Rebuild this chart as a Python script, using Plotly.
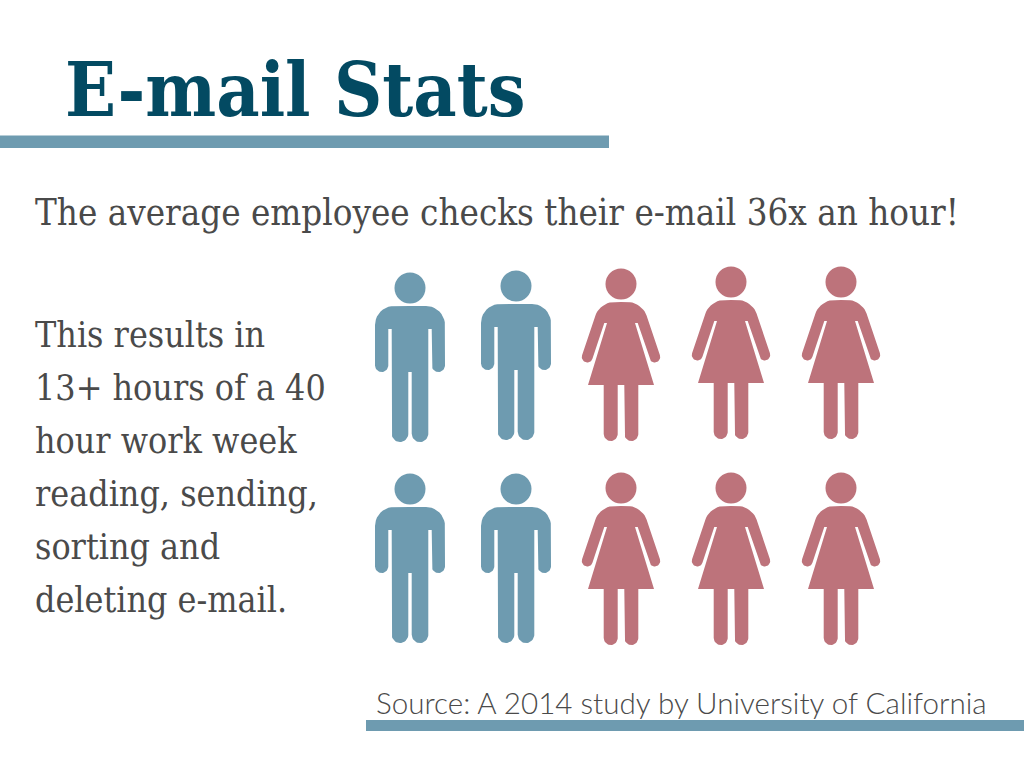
import plotly.graph_objects as go
import numpy as np

blue = "#6e9bb0"
pink = "#bd737b"
dark = "#4a4a4a"

# head centres, pixels from the top left
men = [(410, 288), (516, 286), (410, 489), (516, 489)]
women = [(621, 284), (731, 282), (841, 282), (621, 488), (731, 488), (841, 488)]

# outlines around the head centre: x, y, corner radius
man_outline = [(0, 18, 0), (-35, 18, 19), (-35, 84, 6.6), (-21.7, 84, 6.6), (-21.7, 41, 0),
               (-18.3, 41, 0), (-18.3, 154, 8.3), (-1.7, 154, 8.3), (-1.7, 84, 0),
               (1.7, 84, 0), (1.7, 154, 8.3), (18.3, 154, 8.3), (18.3, 41, 0),
               (21.7, 41, 0), (21.7, 84, 6.6), (35, 84, 6.6), (35, 18, 19)]
woman_outline = [(0, 18, 0), (-21, 18, 14), (-40.7, 76.4, 5.5), (-30.3, 80, 5.5), (-16.7, 39, 0),
                 (-14, 39, 0), (-33, 101, 0), (-17.3, 101, 0), (-17.3, 157, 7), (-3.3, 157, 7), (-3.3, 101, 0),
                 (3.3, 101, 0), (3.3, 157, 7), (17.3, 157, 7), (17.3, 101, 0), (33, 101, 0),
                 (14, 39, 0), (16.7, 39, 0), (30.3, 80, 5.5), (40.7, 76.4, 5.5), (21, 18, 14)]


def round_corners(outline):
    """Outline as x and y arrays, corners cut with a small arc."""
    pts = np.array([p[:2] for p in outline], dtype=float)
    xs, ys = [], []
    w = 0.707  # weight of the arc
    for i, (px, py, r) in enumerate(outline):
        here = pts[i]
        before = pts[i - 1] - here
        after = pts[(i + 1) % len(pts)] - here
        if r == 0:
            xs.append(px)
            ys.append(py)
            continue
        a = here + before / np.linalg.norm(before) * r
        b = here + after / np.linalg.norm(after) * r
        for t in np.linspace(0, 1, 11):
            q = ((1 - t) ** 2 * a + 2 * w * t * (1 - t) * here + t ** 2 * b) / ((1 - t) ** 2 + 2 * w * t * (1 - t) + t ** 2)
            xs.append(q[0])
            ys.append(q[1])
    return xs + xs[:1], ys + ys[:1]


def bodies(heads, outline):
    xs, ys = round_corners(outline)
    all_x, all_y = [], []
    for hx, hy in heads:
        all_x += [hx + x for x in xs] + [None]
        all_y += [hy + y for y in ys] + [None]
    return all_x, all_y


fig = go.Figure()
for heads, outline, color in [(men, man_outline, blue), (women, woman_outline, pink)]:
    x, y = bodies(heads, outline)
    fig.add_trace(go.Scatter(x=x, y=y, mode="lines", fill="toself", fillcolor=color,
                             line=dict(width=0), hoverinfo="skip"))
    fig.add_trace(go.Scatter(x=[h[0] for h in heads], y=[h[1] for h in heads], mode="markers",
                             marker=dict(size=31, color=color), hoverinfo="skip"))

# the two rules
fig.add_shape(type="rect", x0=0, x1=609, y0=135.5, y1=148, fillcolor=blue, line_width=0)
fig.add_shape(type="rect", x0=366, x1=1024, y0=720, y1=731, fillcolor=blue, line_width=0)

fig.add_annotation(x=63, y=90, text="<b>E-mail Stats</b>", showarrow=False, xanchor="left",
                   font=dict(family="DejaVu Serif Condensed", size=74.5, color="#034a62"))
fig.add_annotation(x=33, y=212, text="The average employee checks their e-mail 36x an hour!", showarrow=False,
                   xanchor="left", font=dict(family="DejaVu Serif Condensed", size=36.4, color=dark))

lines = ["This results in", "13+ hours of a 40", "hour work week", "reading, sending,", "sorting and",
         "deleting e-mail."]
for i, line in enumerate(lines):
    fig.add_annotation(x=33, y=334 + i * 53, text=line, showarrow=False, xanchor="left",
                       font=dict(family="DejaVu Serif Condensed", size=35.5, color=dark))

fig.add_annotation(x=374, y=702, text="Source: A 2014 study by University of California", showarrow=False,
                   xanchor="left", font=dict(family="Lato Light, Lato", size=29.6, color=dark))

fig.update_layout(width=1024, height=768, showlegend=False,
                  plot_bgcolor="white", paper_bgcolor="white",
                  xaxis=dict(range=[0, 1024], visible=False),
                  yaxis=dict(range=[768, 0], visible=False),
                  margin=dict(l=0, r=0, t=0, b=0))
fig.write_html("out.html", config=dict(displayModeBar=False), post_script="document.body.style.margin='0';")
